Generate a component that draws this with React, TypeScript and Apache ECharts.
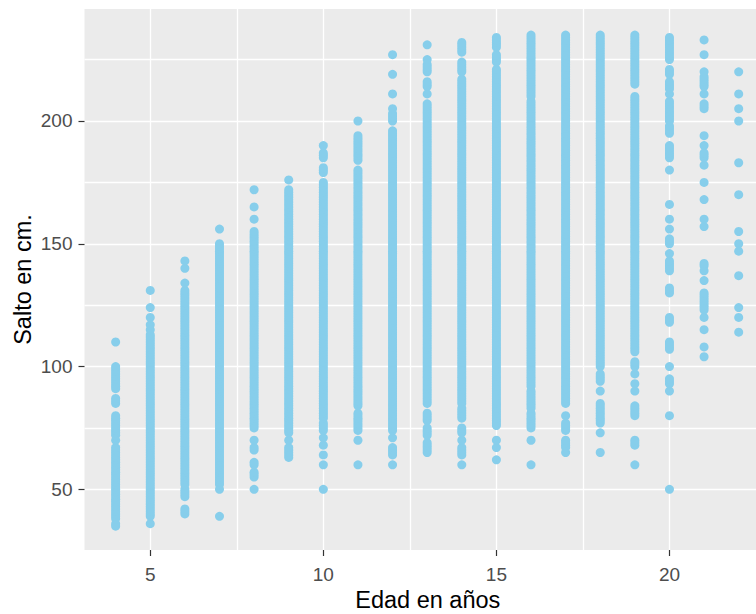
import React, { useEffect, useRef } from "react";
import * as echarts from "echarts";

const xTitle = "Edad en años";
const yTitle = "Salto en cm.";
const xMajor = [5, 10, 15, 20];
const xMinor = [7.5, 12.5, 17.5];
const yMajor = [50, 100, 150, 200];
const yMinor = [75, 125, 175, 225];

const ages = [4, 5, 6, 7, 8, 9, 10, 11, 12, 13, 14, 15, 16, 17, 18, 19, 20, 21, 22];

const age4 = [35,36,38,39,40,41,42,43,44,45,46,47,48,49,50,51,52,53,54,55,56,57,58,59,60,61,62,63,64,65,66,67,70,72,73,74,75,76,77,78,79,80,85,86,87,91,92,93,94,95,96,97,98,99,100,110];
const age5 = [36,39,40,41,42,43,44,45,46,47,48,49,50,51,52,53,54,55,56,57,58,59,60,61,62,63,64,65,66,67,68,69,70,71,72,73,74,75,76,77,78,79,80,81,82,83,84,85,86,87,88,89,90,91,92,93,94,95,96,97,98,99,100,101,102,103,104,105,106,107,108,109,110,111,112,113,115,117,120,124,131];
const age6 = [40,41,42,47,48,49,50,52,53,54,55,56,57,58,59,60,61,62,63,64,65,66,67,68,69,70,71,72,73,74,75,76,77,78,79,80,81,82,83,84,85,86,87,88,89,90,91,92,93,94,95,96,97,98,99,100,101,102,103,104,105,106,107,108,109,110,111,112,113,114,115,116,117,118,119,120,121,122,123,124,125,126,127,128,129,130,131,134,140,143];
const age7 = [39,50,52,53,54,55,56,57,58,59,60,61,62,63,64,65,66,67,68,69,70,71,72,73,74,75,76,77,78,79,80,81,82,83,84,85,86,87,88,89,90,91,92,93,94,95,96,97,98,99,100,101,102,103,104,105,106,107,108,109,110,111,112,113,114,115,116,117,118,119,120,121,122,123,124,125,126,127,128,129,130,131,132,133,134,135,136,137,138,139,140,141,142,143,144,145,146,147,148,149,150,156];
const age8 = [50,55,56,57,60,61,66,67,70,75,76,77,78,79,80,81,82,83,84,85,86,87,88,89,90,91,92,93,94,95,96,97,98,99,100,101,102,103,104,105,106,107,108,109,110,111,112,113,114,115,116,117,118,119,120,121,122,123,124,125,126,127,128,129,130,131,132,133,134,135,136,137,138,139,140,141,142,143,144,145,146,147,148,149,150,151,152,153,154,155,160,165,172];
const age9 = [63,64,65,66,67,70,73,74,75,76,77,78,79,80,81,82,83,84,85,86,87,88,89,90,91,92,93,94,95,96,97,98,99,100,101,102,103,104,105,106,107,108,109,110,111,112,113,114,115,116,117,118,119,120,121,122,123,124,125,126,127,128,129,130,131,132,133,134,135,136,137,138,139,140,141,142,143,144,145,146,147,148,149,150,151,152,153,154,155,156,157,158,159,160,161,162,163,164,165,166,167,168,169,170,171,172,176];
const age10 = [50,60,64,68,71,74,75,76,77,79,80,81,82,83,84,85,86,87,88,89,90,91,92,93,94,95,96,97,98,99,100,101,102,103,104,105,106,107,108,109,110,111,112,113,114,115,116,117,118,119,120,121,122,123,124,125,126,127,128,129,130,131,132,133,134,135,136,137,138,139,140,141,142,143,144,145,146,147,148,149,150,151,152,153,154,155,156,157,158,159,160,161,162,163,164,165,166,167,168,169,170,171,172,173,174,175,179,180,181,185,186,187,190];
const age11 = [60,70,74,75,76,77,78,79,80,81,84,85,86,87,88,89,90,91,92,93,94,95,96,97,98,99,100,101,102,103,104,105,106,107,108,109,110,111,112,113,114,115,116,117,118,119,120,121,122,123,124,125,126,127,128,129,130,131,132,133,134,135,136,137,138,139,140,141,142,143,144,145,146,147,148,149,150,151,152,153,154,155,156,157,158,159,160,161,162,163,164,165,166,167,168,169,170,171,172,173,174,175,176,177,178,179,180,184,185,186,187,188,189,190,191,192,193,194,200];
const age12 = [60,64,65,66,67,71,74,75,76,77,78,79,80,81,82,83,84,85,86,87,88,89,90,91,92,93,94,95,96,97,98,99,100,101,102,103,104,105,106,107,108,109,110,111,112,113,114,115,116,117,118,119,120,121,122,123,124,125,126,127,128,129,130,131,132,133,134,135,136,137,138,139,140,141,142,143,144,145,146,147,148,149,150,151,152,153,154,155,156,157,158,159,160,161,162,163,164,165,166,167,168,169,170,171,172,173,174,175,176,177,178,179,180,181,182,183,184,185,186,187,188,189,190,191,192,193,194,195,196,200,201,202,203,205,211,219,227];
const age13 = [65,66,67,68,69,72,73,74,75,78,79,80,81,85,86,87,88,89,90,91,92,93,94,95,96,97,98,99,100,101,102,103,104,105,106,107,108,109,110,111,112,113,114,115,116,117,118,119,120,121,122,123,124,125,126,127,128,129,130,131,132,133,134,135,136,137,138,139,140,141,142,143,144,145,146,147,148,149,150,151,152,153,154,155,156,157,158,159,160,161,162,163,164,165,166,167,168,169,170,171,172,173,174,175,176,177,178,179,180,181,182,183,184,185,186,187,188,189,190,191,192,193,194,195,196,197,198,199,200,201,202,203,204,205,206,207,211,214,215,216,220,221,222,223,225,231];
const age14 = [60,64,65,66,67,70,73,74,75,79,80,81,82,83,85,86,87,88,89,90,91,92,93,94,95,96,97,98,99,100,101,102,103,104,105,106,107,108,109,110,111,112,113,114,115,116,117,118,119,120,121,122,123,124,125,126,127,128,129,130,131,132,133,134,135,136,137,138,139,140,141,142,143,144,145,146,147,148,149,150,151,152,153,154,155,156,157,158,159,160,161,162,163,164,165,166,167,168,169,170,171,172,173,174,175,176,177,178,179,180,181,182,183,184,185,186,187,188,189,190,191,192,193,194,195,196,197,198,199,200,201,202,203,204,205,206,207,208,209,210,211,212,213,214,215,216,217,220,221,222,223,224,228,229,230,231,232];
const age15 = [62,67,70,76,77,78,79,80,81,82,83,84,85,86,87,88,89,90,91,92,93,94,95,96,97,98,99,100,101,102,103,104,105,106,107,108,109,110,111,112,113,114,115,116,117,118,119,120,121,122,123,124,125,126,127,128,129,130,131,132,133,134,135,136,137,138,139,140,141,142,143,144,145,146,147,148,149,150,151,152,153,154,155,156,157,158,159,160,161,162,163,164,165,166,167,168,169,170,171,172,173,174,175,176,177,178,179,180,181,182,183,184,185,186,187,188,189,190,191,192,193,194,195,196,197,198,199,200,201,202,203,204,205,206,207,208,209,210,211,212,213,214,215,216,217,218,219,220,221,224,225,226,227,230,231,232,233,234];
const age16 = [60,70,75,76,77,78,79,80,81,83,84,85,86,87,88,89,90,92,93,94,95,96,97,98,99,100,101,102,103,104,105,106,107,108,109,110,111,112,113,114,115,116,117,118,119,120,121,122,123,124,125,126,127,128,129,130,131,132,133,134,135,136,137,138,139,140,141,142,143,144,145,146,147,148,149,150,151,152,153,154,155,156,157,158,159,160,161,162,163,164,165,166,167,168,169,170,171,172,173,174,175,176,177,178,179,180,181,182,183,184,185,186,187,188,189,190,191,192,193,194,195,196,197,198,199,200,201,202,203,204,205,206,207,208,210,211,212,213,214,215,216,217,218,219,220,221,222,223,224,225,226,227,228,229,230,231,232,233,234,235];
const age17 = [65,67,68,69,70,74,75,76,77,80,85,86,87,88,89,90,91,92,93,94,95,96,97,98,99,100,101,102,103,104,105,106,107,108,109,110,111,112,113,114,115,116,117,118,119,120,121,122,123,124,125,126,127,128,129,130,131,132,133,134,135,136,137,138,139,140,141,142,143,144,145,146,147,148,149,150,151,152,153,154,155,156,157,158,159,160,161,162,163,164,165,166,167,168,169,170,171,172,173,174,175,176,177,178,179,180,181,182,183,184,185,186,187,188,189,190,191,192,193,194,195,196,197,198,199,200,201,202,203,204,205,206,207,208,209,210,211,212,213,214,215,216,217,218,219,220,221,222,223,224,225,226,227,228,229,230,231,232,233,234,235];
const age18 = [65,73,77,78,79,80,81,82,83,84,85,90,94,95,96,97,100,101,102,103,104,105,106,107,108,109,110,111,112,113,114,115,116,117,118,119,120,121,122,123,124,125,126,127,128,129,130,131,132,133,134,135,136,137,138,139,140,141,142,143,144,145,146,147,148,149,150,151,152,153,154,155,156,157,158,159,160,161,162,163,164,165,166,167,168,169,170,171,172,173,174,175,176,177,178,179,180,181,182,183,184,185,186,187,188,189,190,191,192,193,194,195,196,197,198,199,200,201,202,203,204,205,206,207,208,209,210,211,212,213,214,215,216,217,218,219,220,221,222,223,224,225,226,227,228,229,230,231,232,233,234,235];
const age19 = [60,68,69,70,80,81,82,83,84,90,93,97,100,101,102,106,107,108,109,110,111,112,113,114,115,116,117,118,119,120,121,122,123,124,125,126,127,128,129,130,131,132,133,134,135,136,137,138,139,140,141,142,143,144,145,146,147,148,149,150,151,152,153,154,155,156,157,158,159,160,161,162,163,164,165,166,167,168,169,170,171,172,173,174,175,176,177,178,179,180,181,182,183,184,185,186,187,188,189,190,191,192,193,194,195,196,197,198,199,200,201,202,203,204,205,206,207,208,209,210,215,216,217,218,219,220,221,222,223,224,225,226,227,228,229,230,231,232,233,234,235];
const age20 = [50,80,90,93,94,95,100,107,108,109,110,118,119,120,130,131,132,139,140,141,142,143,146,150,151,152,156,160,166,180,185,186,187,188,189,190,195,196,197,198,200,201,202,203,204,205,206,207,208,211,213,214,215,216,219,220,221,225,226,227,228,229,230,231,232,233,234];
const age21 = [104,108,115,120,123,124,125,126,127,128,129,130,135,139,141,142,157,160,168,175,182,185,186,187,190,194,205,206,207,211,214,215,216,217,218,220,227,233];
const age22 = [114,120,124,137,147,150,155,170,183,200,205,211,220];

const heights = [age4, age5, age6, age7, age8, age9, age10, age11, age12, age13, age14, age15, age16, age17, age18, age19, age20, age21, age22];

export default function App() {
  const ref = useRef<HTMLDivElement>(null);
  useEffect(() => {
    const chart = echarts.init(ref.current!, null, { renderer: "svg" });
    const font = "'Liberation Sans', Arial, sans-serif";
    const grid = "#FFFFFF";
    const xMin = 3.1;
    const xMax = 22.5;
    const yMin = 25.3;
    const yMax = 245.6;
    chart.setOption({
      animation: false,
      backgroundColor: "#FFFFFF",
      grid: { show: true, left: 84.5, top: 9, width: 671.5, height: 541, backgroundColor: "#EBEBEB", borderWidth: 0, outerBoundsMode: "none" },
      xAxis: [
        {
          type: "value", min: xMin, max: xMax, position: "bottom",
          name: xTitle, nameLocation: "middle", nameGap: 38, nameMoveOverlap: false,
          nameTextStyle: { color: "#000000", fontSize: 23.5, fontFamily: font, padding: [0, 0, 0, 15] },
          axisLine: { show: false },
          axisTick: { show: true, length: 6, customValues: xMajor, lineStyle: { color: "#333333", width: 1.2 } },
          axisLabel: { customValues: xMajor, color: "#4D4D4D", fontSize: 19, fontFamily: font, margin: 15, showMinLabel: true, showMaxLabel: true },
          splitLine: { show: true, lineStyle: { color: grid, width: 1.3 } },
        },
        {
          type: "value", min: xMin, max: xMax, position: "top",
          axisLine: { show: false }, axisLabel: { show: false },
          axisTick: { show: false, customValues: xMinor },
          splitLine: { show: true, lineStyle: { color: grid, width: 1.3 } },
        },
      ],
      yAxis: [
        {
          type: "value", min: yMin, max: yMax, position: "left",
          name: yTitle, nameLocation: "middle", nameGap: 50, nameMoveOverlap: false,
          nameTextStyle: { color: "#000000", fontSize: 23.5, fontFamily: font },
          axisLine: { show: false },
          axisTick: { show: true, length: 6, customValues: yMajor, lineStyle: { color: "#333333", width: 1.2 } },
          axisLabel: { customValues: yMajor, color: "#4D4D4D", fontSize: 19, fontFamily: font, margin: 12 },
          splitLine: { show: true, lineStyle: { color: grid, width: 1.3 } },
        },
        {
          type: "value", min: yMin, max: yMax, position: "right",
          axisLine: { show: false }, axisLabel: { show: false },
          axisTick: { show: false, customValues: yMinor },
          splitLine: { show: true, lineStyle: { color: grid, width: 1.3 } },
        },
      ],
      series: [
        {
          type: "scatter",
          xAxisIndex: 0,
          yAxisIndex: 0,
          symbol: "circle",
          symbolSize: 9,
          silent: true,
          itemStyle: { color: "#87CEEB", opacity: 1 },
          data: ages.flatMap((a, i) => heights[i].map((v) => [a, v])),
        },
      ],
    });
    return () => chart.dispose();
  }, []);
  return <div ref={ref} style={{ position: "absolute", left: 0, top: 0, width: 756, height: 614 }} />;
}
